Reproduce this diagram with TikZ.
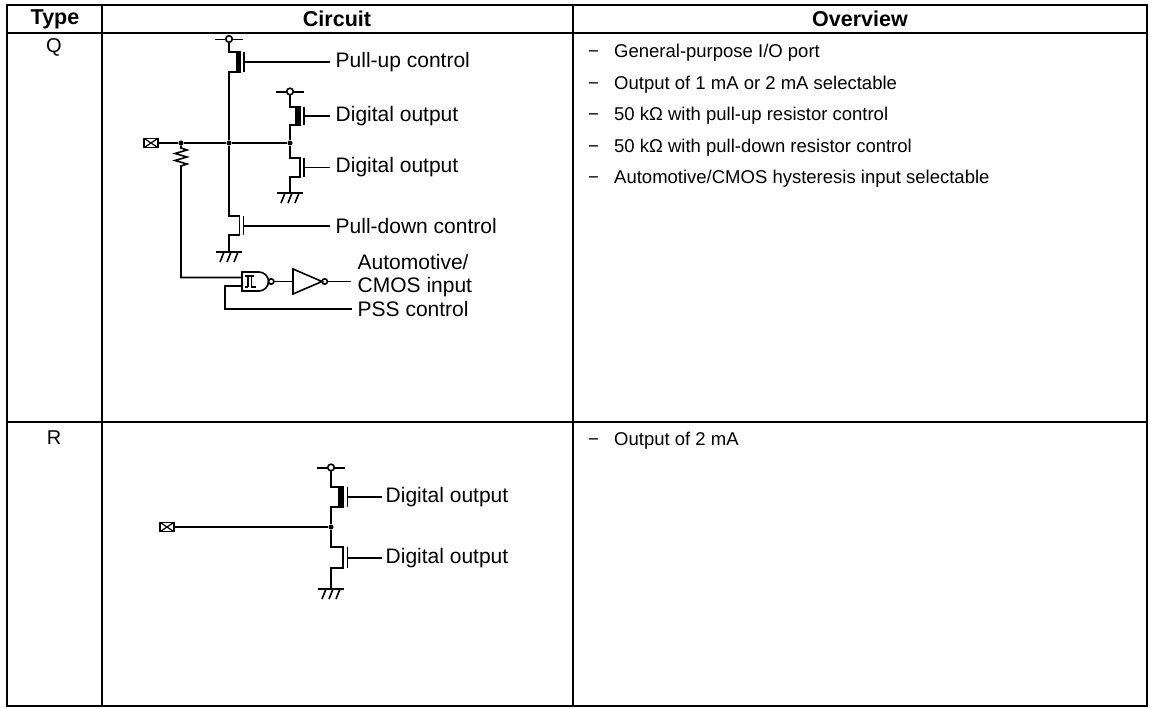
\documentclass[tikz,border=0pt]{standalone}
\usepackage{fontspec}
\setmainfont{Liberation Sans}
\begin{document}
\begin{tikzpicture}[x=1pt,y=-1pt,
  wire/.style={line width=1.6pt},
  frame/.style={line width=2.6pt},
  grid/.style={line width=2pt},
  hdr/.style={font=\bfseries\fontsize{21.5}{25}\selectfont, inner sep=0},
  typ/.style={font=\fontsize{20}{24}\selectfont, inner sep=0},
  lbl/.style={anchor=west, inner xsep=5.5pt, inner ysep=0pt, font=\fontsize{21}{25}\selectfont},
  ovr/.style={anchor=base west, inner sep=0pt, font=\fontsize{18.5}{22}\selectfont},
  pad/.style={draw, line width=1.4pt, minimum width=14pt, minimum height=9.5pt, inner sep=0pt,
    path picture={\draw[line width=1.2pt] (path picture bounding box.north west) -- (path picture bounding box.south east)
      (path picture bounding box.south west) -- (path picture bounding box.north east);}},
  dot/.style={circle, fill, inner sep=0pt, minimum size=5pt},
  gnd/.pic={\draw[wire] (-13,0) -- (13,0);
    \foreach \h in {-9,-2,5} \draw[wire] (\h,10) -- (\h+4,0);},
  vdd/.pic={\draw[wire] (-14,0) -- (14,0);
    \draw[wire, fill=white] (0,-0.5) circle (3.3pt);}
]
\useasboundingbox (0,0) rectangle (1150,708);
% ---------- table ----------
\draw[frame] (7,5) rectangle (1147,706);
\draw[grid] (7,33) -- (1147,33);
\draw[grid] (7,421.5) -- (1147,421.5);
\draw[grid] (101.5,5) -- (101.5,706);
\draw[grid] (573,5) -- (573,706);
\node[hdr] (hType) at (55,19) {Type};
\node[hdr] (hCirc) at (337,19) {Circuit};
\node[hdr] (hOver) at (860,19) {Overview};
\node[typ] (tQ) at (54,47) {Q};
\node[typ] (tR) at (54,438) {R};
% ---------- overview ----------
\foreach \yy/\tx in {57.5/{General-purpose I/O port}, 89.1/{Output of 1 mA or 2 mA selectable},
  120.7/{50 kΩ with pull-up resistor control}, 152.3/{50 kΩ with pull-down resistor control},
  183.9/{Automotive/CMOS hysteresis input selectable}, 445.5/{Output of 2 mA}}{
  \node[ovr] at (588,\yy) {−};
  \node[ovr] at (614,\yy) {\tx};
}
% ---------- circuit Q ----------
\pic at (229,39.5) {vdd};
\pic at (290,92) {vdd};
\coordinate (Vq1) at (229,42.3);
\coordinate (Vq2) at (290,94.8);
\node[pad] (Pq) at (151,143) {};
\node[dot] (Nq0) at (181,143) {};
\node[dot] (Nq1) at (229,143) {};
\node[dot] (Nq2) at (290,143) {};
\node[lbl] (lPU) at (330,62) {Pull-up control};
\node[lbl] (lD1) at (330,116) {Digital output};
\node[lbl] (lD2) at (330,167.5) {Digital output};
\node[lbl] (lPD) at (330,226) {Pull-down control};
\node[lbl] (lA) at (352,262) {Automotive/};
\node[lbl] (lC) at (352,287) {CMOS input};
\node[lbl] (lPSS) at (352,309) {PSS control};
\coordinate (acEnd) at (351,281.5);
% horizontal bus
\draw[wire] (Pq.east) -- (Nq0) -- (Nq1) -- (Nq2);
% pull-up PMOS
\draw[wire] (Vq1) -- (229,52) -- (236,52);
\fill (235.5,51.2) rectangle (241,72.8);
\draw[wire] (236,72) -- (229,72) -- (Nq1);
\draw[wire] (244,52) -- (244,72);
\draw[wire] (244,62) -- (lPU.west);
% pull-down NMOS
\draw[wire] (Nq1) -- (229,216) -- (239.5,216) -- (239.5,235) -- (229,235) -- (229,252);
\draw[wire] (243.5,216) -- (243.5,235);
\draw[wire] (243.5,226) -- (lPD.west);
\pic at (229,252) {gnd};
% digital output PMOS
\draw[wire] (Vq2) -- (290,107) -- (295,107);
\fill (294.5,106.2) rectangle (300.5,125.8);
\draw[wire] (295,125) -- (290,125) -- (Nq2);
\draw[wire] (304,107) -- (304,125);
\draw[wire] (304,116) -- (lD1.west);
% digital output NMOS
\draw[wire] (Nq2) -- (290,158) -- (300,158) -- (300,177) -- (290,177) -- (290,193);
\draw[wire] (304,158) -- (304,177);
\draw[wire] (304,167.5) -- (lD2.west);
\pic at (290,193) {gnd};
% resistor and input path
\draw[wire] (Nq0) -- (181,148) -- (187,150) -- (175,153.5) -- (187,157) -- (175,160.5) -- (187,164) -- (181,166) -- (181,277.5) -- (242,277.5);
% Schmitt NAND
\draw[wire] (242,272) -- (259,272) .. controls (264.2,272) and (268.5,276.3) .. (268.5,281.5)
  .. controls (268.5,286.7) and (264.2,291) .. (259,291) -- (242,291) -- cycle;
\draw[line width=1.1pt] (245,276) -- (254,276) (248,276) -- (248,287) (251.5,276) -- (251.5,287) -- (256,287) (245,287) -- (248,287);
\draw[wire] (271.2,281.5) circle (2.7pt);
\draw[wire] (273.9,281.5) -- (293,281.5);
% inverter
\draw[wire] (293,269) -- (322,281.5) -- (293,294) -- cycle;
\draw[wire] (324.7,281.5) circle (2.7pt);
\draw[wire] (327.4,281.5) -- (acEnd);
% PSS control
\draw[wire] (242,286) -- (225,286) -- (225,309) -- (lPSS.west);
% ---------- circuit R ----------
\pic at (331,468) {vdd};
\coordinate (Vr) at (331,470.8);
\node[pad] (Pr) at (167,527) {};
\node[dot] (Nr) at (331,527) {};
\node[lbl, inner xsep=3.5pt] (lR1) at (382,497) {Digital output};
\node[lbl, inner xsep=3.5pt] (lR2) at (382,558) {Digital output};
\draw[wire] (Pr.east) -- (Nr);
\draw[wire] (Vr) -- (331,487) -- (338,487);
\fill (337.5,486.2) rectangle (343.8,507.8);
\draw[wire] (338,507) -- (331,507) -- (Nr);
\draw[wire] (347.3,487) -- (347.3,507);
\draw[wire] (347.3,497) -- (lR1.west);
\draw[wire] (Nr) -- (331,547) -- (342.7,547) -- (342.7,568) -- (331,568) -- (331,589);
\draw[wire] (347.3,547) -- (347.3,568);
\draw[wire] (347.3,558) -- (lR2.west);
\pic at (331,589) {gnd};
\end{tikzpicture}
\end{document}
